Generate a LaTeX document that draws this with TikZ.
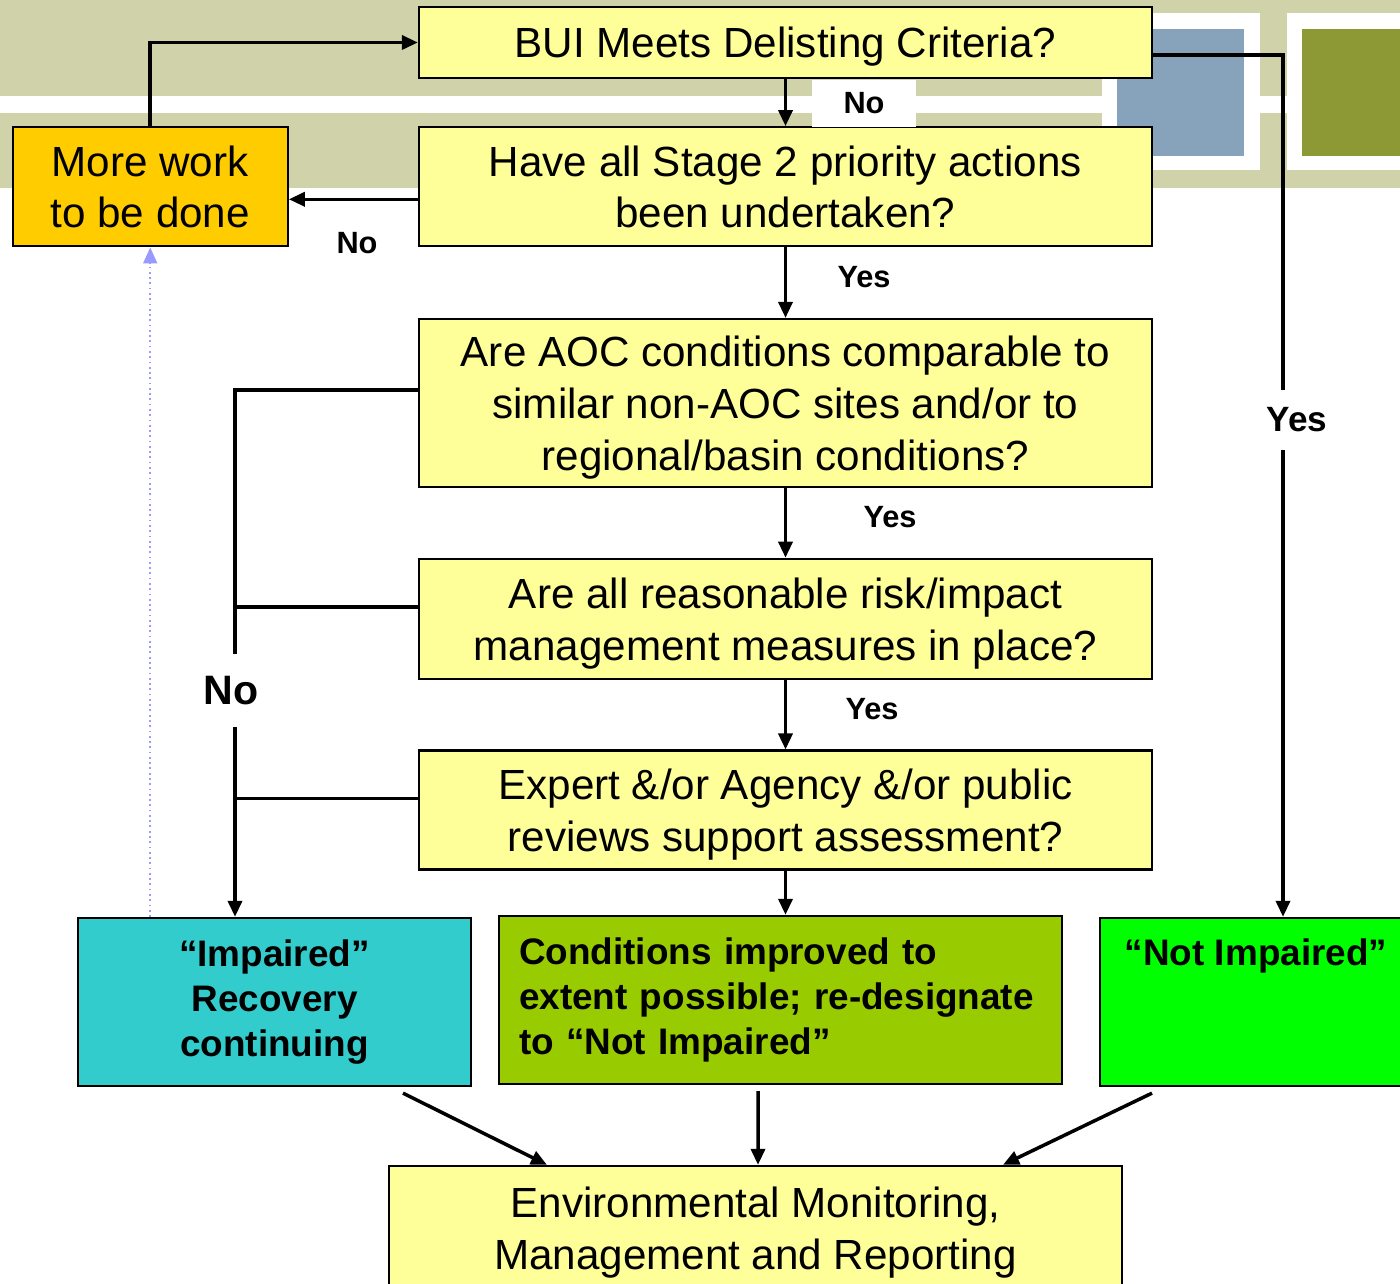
\documentclass[tikz,border=0pt]{standalone}
\usepackage{fontspec}
\setmainfont{Liberation Sans}
\usetikzlibrary{arrows.meta,positioning,calc}

\definecolor{boxyellow}{HTML}{FFFF99}
\definecolor{moreorange}{HTML}{FFCC00}
\definecolor{impteal}{HTML}{33CCCC}
\definecolor{condgreen}{HTML}{99CC00}
\definecolor{notgreen}{HTML}{00FF00}
\definecolor{bandbeige}{HTML}{D0D3A9}
\definecolor{tileblue}{HTML}{87A3BB}
\definecolor{tileolive}{HTML}{8C9934}
\definecolor{dotblue}{HTML}{9999FF}

\tikzset{
  qbox/.style={
    rectangle, draw=black, line width=1.3pt, fill=boxyellow,
    minimum width=14.66cm, inner sep=0pt, text depth=0pt,
    align=center, font=\fontsize{24}{29.5}\selectfont
  },
  outbox/.style={
    rectangle, draw=black, line width=1.3pt, minimum height=3.36cm,
    inner sep=0pt, align=center, font=\bfseries\fontsize{21}{25.6}\selectfont
  },
  arr/.style={-{Triangle[length=0.32cm,width=0.28cm]}, line width=2pt},
  line/.style={line width=2pt},
  ans/.style={font=\bfseries\fontsize{17.5}{20}\selectfont, inner sep=0pt},
  ansbg/.style={ans, fill=white}
}

\begin{document}
\begin{tikzpicture}[node distance=10mm,
    dotline/.style={-{Triangle[length=0.32cm,width=0.28cm]}, draw=dotblue,
                    line width=1pt, dotted}
]
  \useasboundingbox (0,0) rectangle (28,25.66);

  % backdrop band and tiles
  \fill[bandbeige] (0,21.9) rectangle (28,25.66);
  \fill[white] (0,23.4) rectangle (28,23.74);
  \fill[white] (22.04,22.26) rectangle (25.2,25.4);
  \fill[tileblue] (22.34,22.54) rectangle (24.88,25.08);
  \fill[white] (25.74,22.26) rectangle (28.2,25.4);
  \fill[tileolive] (26.04,22.54) rectangle (28.2,25.08);

  % Question column
  \node[qbox, minimum height=1.42cm] (bui) at (15.71,24.81) {BUI Meets Delisting Criteria?};
  \node[qbox, minimum height=2.38cm, below=0.94cm of bui] (stage)
       {Have all Stage 2 priority actions\\been undertaken?};
  \node[qbox, minimum height=3.36cm, below=1.41cm of stage] (aoc)
       {Are AOC conditions comparable to\\similar non-AOC sites and/or to\\regional/basin conditions?};
  \node[qbox, minimum height=2.4cm, below=1.39cm of aoc] (risk)
       {Are all reasonable risk/impact\\management measures in place?};
  \node[qbox, minimum height=2.38cm, below=1.39cm of risk] (expert)
       {Expert \&/or Agency \&/or public\\reviews support assessment?};

  % More work
  \node[qbox, fill=moreorange, minimum width=5.5cm, minimum height=2.38cm,
        left=2.58cm of stage] (more) {More work\\to be done};

  % Outcomes
  \node[outbox, fill=impteal, minimum width=7.86cm] (imp) at (5.49,5.62)
       {“Impaired”\\Recovery\\continuing};
  \node[outbox, fill=condgreen, minimum width=11.26cm, text width=10.46cm,
        align=left] (cond) at (15.61,5.66)
       {Conditions improved to\\extent possible; re-designate\\to “Not Impaired”};
  \node[outbox, fill=notgreen, minimum width=6.24cm,
        label={[font=\bfseries\fontsize{21}{25.6}\selectfont, anchor=center,
                yshift=-0.78cm]north:“Not Impaired”}] (notimp) at (25.12,5.62) {};

  % Reporting
  \node[qbox, minimum height=2.5cm] (env) at (15.11,1.09)
       {Environmental Monitoring,\\Management and Reporting};

  % Arrows down the column
  \draw[arr] (more.north) |- (bui.west);
  \draw[arr] (bui) -- (stage);
  \draw[arr] ([yshift=-0.25cm]stage.west) -- ([yshift=-0.25cm]more.east);
  \draw[arr] (stage) -- (aoc);
  \draw[arr] (aoc) -- (risk);
  \draw[arr] (risk) -- (expert);
  \draw[arr] (expert.south) -- (expert.south |- cond.north);
  \draw[arr] ([yshift=-0.25cm]bui.east) -| ([xshift=0.54cm]notimp.north);

  % No bus on the left
  \coordinate (nobus) at ([xshift=-0.79cm]imp.north);
  \coordinate (aocno) at ([yshift=0.26cm]aoc.west);
  \coordinate (riskno) at ([yshift=0.24cm]risk.west);
  \coordinate (expno) at ([yshift=0.23cm]expert.west);
  \draw[arr] (aocno) -| (nobus);
  \draw[line] (riskno) -- (riskno -| nobus);
  \draw[line] (expno) -- (expno -| nobus);

  % back to more work
  \draw[dotline] (imp.north -| more.south) -- (more.south);

  % into reporting
  \draw[arr] ([xshift=2.57cm,yshift=-0.12cm]imp.south) -- ([xshift=-4.17cm]env.north);
  \draw[arr] ([xshift=-0.45cm,yshift=-0.12cm]cond.south) -- ([xshift=0.05cm]env.north);
  \draw[arr] ([xshift=-2.08cm,yshift=-0.12cm]notimp.south) -- ([xshift=4.95cm]env.north);

  % Answers
  \node[ansbg, minimum width=2.08cm, minimum height=0.94cm] (no1) at (17.28,23.59) {No};
  \node[ans] (no2) at (7.14,20.8) {No};
  \node[ans] (yes1) at (17.28,20.12) {Yes};
  \node[ans] (yes2) at (17.8,15.32) {Yes};
  \node[ans] (yes3) at (17.44,11.48) {Yes};
  \node[ansbg, font=\bfseries\fontsize{20}{24}\selectfont,
        minimum width=2.54cm, minimum height=1.2cm] (yes4) at (25.94,17.26) {Yes};
  \node[ansbg, font=\bfseries\fontsize{23.4}{28}\selectfont,
        minimum width=2.1cm, minimum height=1.46cm] (no3) at (4.62,11.84) {No};
\end{tikzpicture}
\end{document}
